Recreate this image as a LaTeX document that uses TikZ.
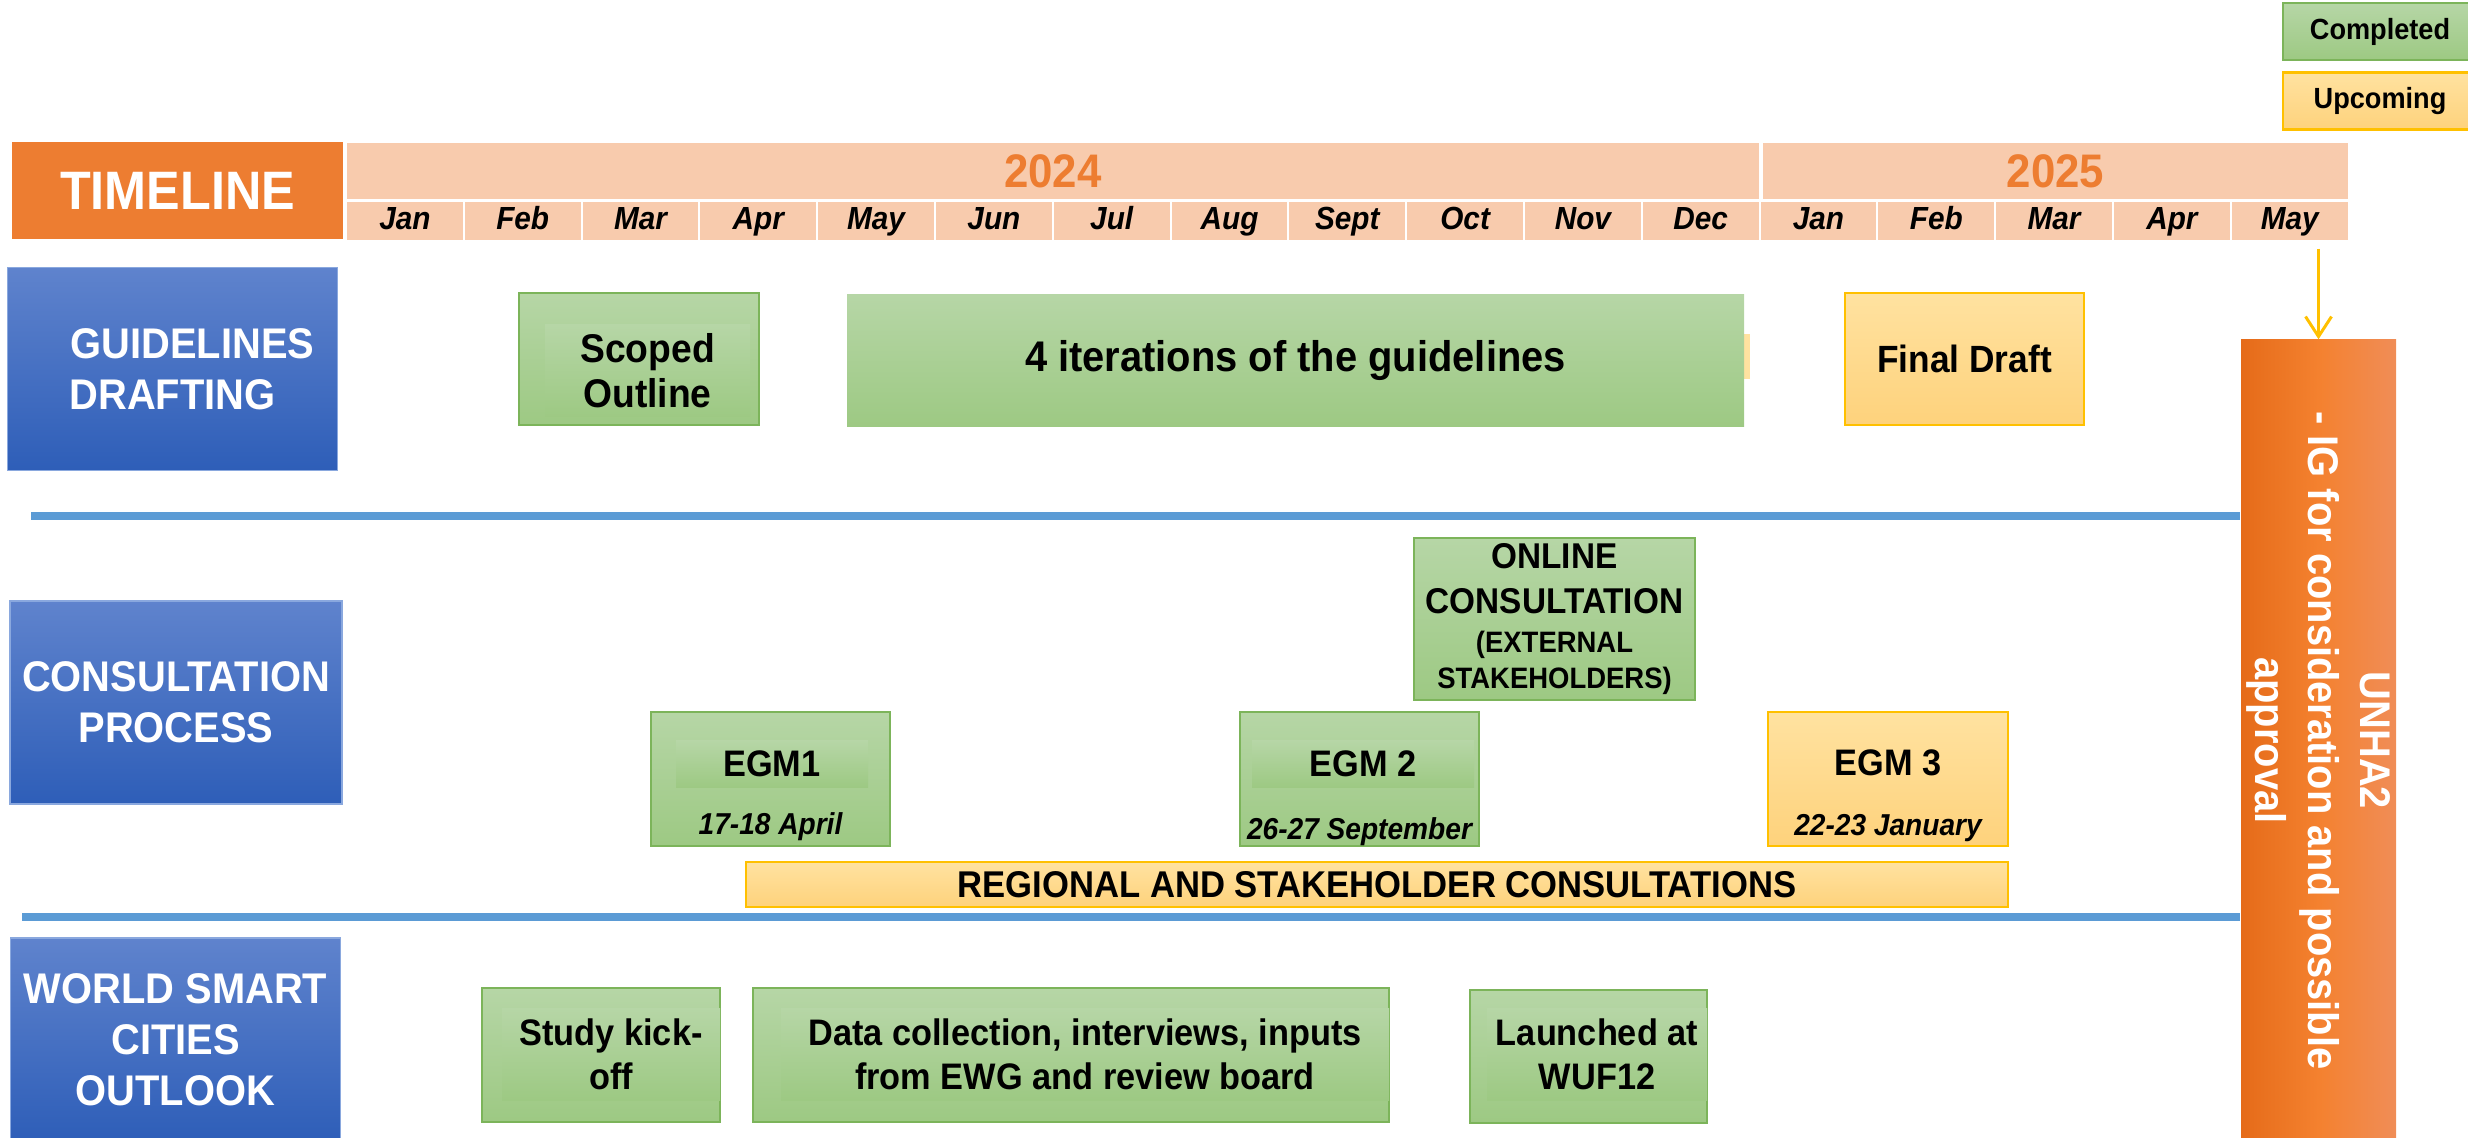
\documentclass[tikz,border=0pt]{standalone}
\usepackage{fontspec}
\setmainfont{Liberation Sans}[FakeStretch=0.93]
\usetikzlibrary{arrows.meta}

\definecolor{tlorange}{HTML}{ED7D31}
\definecolor{peach}{HTML}{F8CBAD}
\definecolor{greentop}{HTML}{B6D6A6}
\definecolor{greenbot}{HTML}{9DC983}
\definecolor{greenline}{HTML}{7CB45A}
\definecolor{yeltop}{HTML}{FFE2A0}
\definecolor{yelbot}{HTML}{FED27C}
\definecolor{yelline}{HTML}{FFC000}
\definecolor{bluetop}{HTML}{5F83CD}
\definecolor{bluebot}{HTML}{2E5EB8}
\definecolor{lanerim}{HTML}{8AA8DE}
\definecolor{rulecol}{HTML}{5B9BD5}
\definecolor{oraleft}{HTML}{E56B19}
\definecolor{oramid}{HTML}{F4812F}
\definecolor{oraright}{HTML}{F08D57}

\newcommand{\sz}[2]{\fontsize{#1}{#2}\selectfont}

\tikzset{
	done/.style={draw=greenline, line width=0.6pt, top color=greentop, bottom color=greenbot, inner sep=0pt},
	todo/.style={draw=yelline, line width=0.8pt, top color=yeltop, bottom color=yelbot, inner sep=0pt},
	inbox/.style={top color=greentop, bottom color=greenbot, inner sep=0pt, align=center, font=\bfseries\sz{10.5}{12.5}},
	lane/.style={draw=lanerim, line width=0.5pt, top color=bluetop, bottom color=bluebot, minimum width=3.3cm, minimum height=2.03cm, text=white, align=center, font=\bfseries\sz{12.2}{14.5}},
	yearcell/.style={fill=peach, inner sep=0pt, minimum height=0.56cm, text=tlorange, font=\bfseries\sz{13.4}{16}},
	monthcell/.style={fill=peach, inner sep=0pt, text height=7pt, text depth=2pt, minimum width=1.158cm, minimum height=0.38cm, font=\bfseries\itshape\sz{9.1}{11}},
	datetxt/.style={font=\bfseries\itshape\sz{8.6}{10}},
	lanerule/.style={draw=rulecol, line width=0.08cm},
}

\begin{document}
\begin{tikzpicture}[x=1cm,y=-1cm]
	\useasboundingbox (0,0) rectangle (24.68,11.38);
	\begin{scope}
	\clip (0,0) rectangle (24.68,11.38);

	\node[done, minimum width=1.94cm, minimum height=0.57cm, font=\bfseries\sz{8.3}{10}] (completed) at (23.80,0.315) {Completed};
	\node[todo, minimum width=1.94cm, minimum height=0.57cm, font=\bfseries\sz{8.3}{10}] (upcoming) at (23.80,1.01) {Upcoming};

	\node[fill=tlorange, minimum width=3.31cm, minimum height=0.97cm, text=white, font=\bfseries\sz{15.4}{18}] (timeline) at (1.775,1.905) {TIMELINE};
	\node[yearcell, minimum width=14.12cm] (y2024) at (10.53,1.71) {2024};
	\node[yearcell, minimum width=5.85cm] (y2025) at (20.555,1.71) {2025};
	\foreach \m [count=\i] in {Jan,Feb,Mar,Apr,May,Jun,Jul,Aug,Sept,Oct,Nov,Dec,Jan,Feb,Mar,Apr,May}
		\node[monthcell] (m\i) at ({3.46+1.178*(\i-0.5)},2.21) {\m};

	\node[lane] (guid) at (1.725,3.69) {\hspace*{0.4cm}GUIDELINES\\DRAFTING};
	\node[lane] (cons) at (1.76,7.025) {CONSULTATION\\PROCESS};
	\node[lane] (wsco) at (1.755,10.395) {WORLD SMART\\CITIES\\OUTLOOK};

	\node[done, minimum width=2.40cm, minimum height=1.32cm] (scoped) at (6.39,3.59) {};
	\node[inbox, minimum width=2.05cm, minimum height=0.92cm, font=\bfseries\sz{11.4}{12.8}] (scopedtxt) at (6.475,3.71) {Scoped\\Outline};
	\fill[yeltop] (17.40,3.34) rectangle (17.50,3.79);
	\node[done, draw=none, minimum width=8.97cm, minimum height=1.32cm, font=\bfseries\sz{12.2}{14}] (iter) at (12.955,3.61) {4 iterations of the guidelines};
	\node[todo, minimum width=2.39cm, minimum height=1.32cm, font=\bfseries\sz{10.8}{13}] (final) at (19.645,3.59) {Final Draft};

	\node[done, minimum width=2.81cm, minimum height=1.62cm, align=center, font=\bfseries\sz{10.2}{12.8}] (online) at (15.545,6.19) {\sz{10.2}{12.8}ONLINE\\\sz{10.2}{12.8}CONSULTATION\\[-1.8pt]\sz{8.4}{10.5}(EXTERNAL\\[-2.5pt]\sz{8.4}{10.5}STAKEHOLDERS)};

	\node[done, minimum width=2.39cm, minimum height=1.34cm] (egm1) at (7.705,7.79) {};
	\node[inbox, minimum width=1.92cm, minimum height=0.46cm] (egm1txt) at (7.72,7.64) {EGM1};
	\node[datetxt] (egm1date) at (7.705,8.27) {17-18 April};
	\node[done, minimum width=2.39cm, minimum height=1.34cm] (egm2) at (13.595,7.79) {};
	\node[inbox, minimum width=2.22cm, minimum height=0.46cm] (egm2txt) at (13.63,7.64) {EGM 2};
	\node[datetxt] (egm2date) at (13.595,8.32) {26-27 September};
	\node[todo, minimum width=2.40cm, minimum height=1.34cm] (egm3) at (18.88,7.79) {};
	\node[font=\bfseries\sz{10.5}{12.5}] (egm3txt) at (18.88,7.63) {EGM 3};
	\node[datetxt] (egm3date) at (18.88,8.28) {22-23 January};
	\node[todo, minimum width=12.62cm, minimum height=0.45cm, font=\bfseries\sz{10.6}{12}] (regional) at (13.77,8.845) {REGIONAL AND STAKEHOLDER CONSULTATIONS};

	\node[done, minimum width=2.38cm, minimum height=1.34cm] (kick) at (6.01,10.55) {};
	\node[inbox, minimum width=2.18cm, minimum height=0.92cm] (kicktxt) at (6.11,10.54) {Study kick-\\off};
	\node[done, minimum width=6.36cm, minimum height=1.34cm] (data) at (10.71,10.55) {};
	\node[inbox, minimum width=6.08cm, minimum height=0.92cm] (datatxt) at (10.85,10.54) {Data collection, interviews, inputs\\from EWG and review board};
	\node[done, minimum width=2.37cm, minimum height=1.33cm] (wuf) at (15.885,10.565) {};
	\node[inbox, minimum width=2.20cm, minimum height=0.92cm] (wuftxt) at (15.97,10.54) {Launched at\\WUF12};

	\node[left color=oraleft, right color=oraright, middle color=oramid, minimum width=1.55cm, minimum height=8.01cm] (unha) at (23.185,7.405) {};
	\node[rotate=-90, text=white, align=center, font=\bfseries\sz{12.2}{14.8}] (unhatxt) at (unha.center) {UNHA2\\- IG for consideration and possible\\approval};

	\coordinate (r1) at (0.31,5.16);
	\coordinate (r2) at (0.22,9.17);
	\draw[lanerule] (r1) -- (r1 -| unha.west);
	\draw[lanerule] (r2) -- (r2 -| unha.west);

	\draw[yelline, line width=0.85pt, shorten <=0.08cm, -{Straight Barb[length=0.2cm, width=0.26cm]}] (unha.north |- m17.south) -- (unha.north);
	\end{scope}
\end{tikzpicture}
\end{document}
